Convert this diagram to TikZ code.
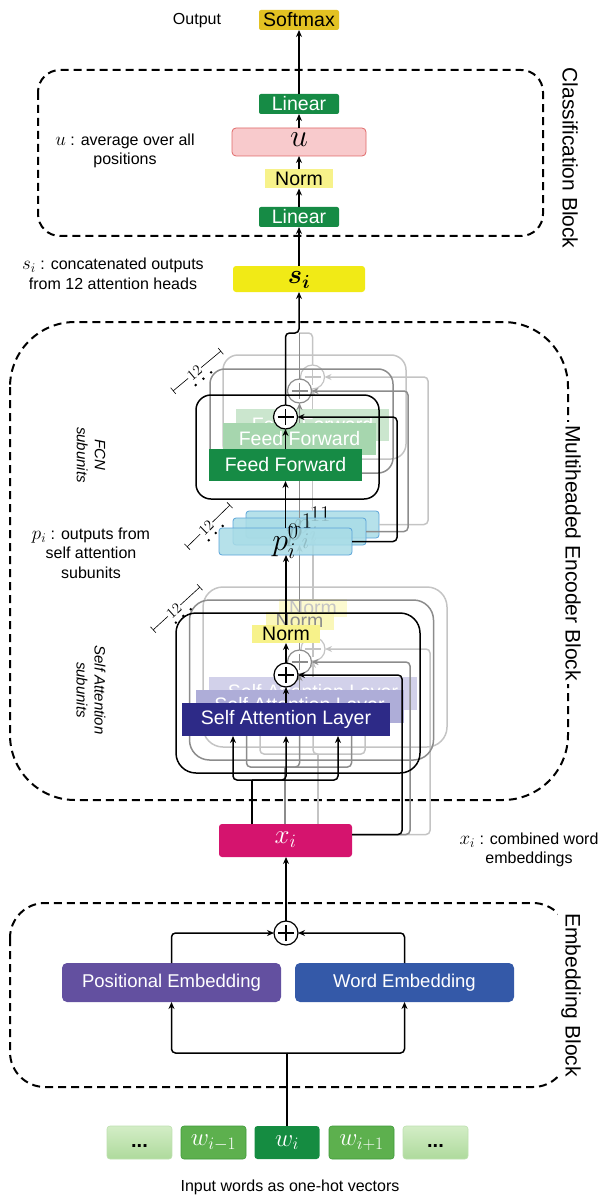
\RequirePackage{fix-cm}
\documentclass[tikz,border=0pt]{standalone}
\usepackage{amsmath}
\usepackage[no-math]{fontspec}
\setmainfont{Liberation Sans}
\usetikzlibrary{arrows.meta,calc}
\definecolor{cGold}{HTML}{E3C222}
\definecolor{cGreen}{HTML}{168B45}
\definecolor{cNorm}{HTML}{F7F28A}
\definecolor{cPink}{HTML}{F8CACC}
\definecolor{cPinkB}{HTML}{E06868}
\definecolor{cSi}{HTML}{F1EA16}
\definecolor{cP}{HTML}{A9DCE6}
\definecolor{cPB}{HTML}{5BA3D9}
\definecolor{cSA}{HTML}{2D2A87}
\definecolor{cSA1}{HTML}{AEADD8}
\definecolor{cSA2}{HTML}{D2D1EA}
\definecolor{cFF1}{HTML}{A6D6AE}
\definecolor{cFF2}{HTML}{CBE6CE}
\definecolor{cXi}{HTML}{D5146E}
\definecolor{cPE}{HTML}{6350A0}
\definecolor{cWE}{HTML}{3459A8}
\definecolor{cW}{HTML}{5DB04E}
\definecolor{cWb}{HTML}{3E9A3A}
\definecolor{cWi}{HTML}{158C41}
\definecolor{cWdT}{HTML}{D3EDC6}
\definecolor{cWdB}{HTML}{AEDA9C}
\definecolor{cG1}{HTML}{8C8C8C}
\definecolor{cG2}{HTML}{C4C4C4}
\newcommand\fs[2]{\fontsize{#1}{#2}\selectfont}
\newcommand\mm[1]{{\fontsize{19}{19}\selectfont$#1$}}
\tikzset{
  every node/.style={inner sep=0pt, outer sep=0pt},
  lbl/.style={font=\fs{19.5}{23}},
  note/.style={font=\fs{16}{19.5}, align=center},
  side/.style={font=\fs{15}{18}\itshape, align=center, rotate=-90},
  blk/.style={font=\fs{21}{25}, rotate=-90, inner sep=3pt},
  blockline/.style={dash pattern=on 8pt off 5pt, line width=2pt, rounded corners=#1pt},
  ln/.style={line width=1.5pt, rounded corners=4pt},
  arr/.style={ln, -{Stealth[length=7pt,width=6pt]}},
  gbox/.style={lbl, fill=cGreen, text=white, rounded corners=2pt, minimum width=80pt, minimum height=20pt},
  nbox/.style={lbl, fill=cNorm, minimum width=68pt, minimum height=19pt},
  sabox/.style={draw, line width=1.5pt, rounded corners=20pt, minimum width=244pt, minimum height=160pt},
  salayer/.style={lbl, minimum width=208pt, minimum height=33pt},
  normbox/.style={lbl, minimum width=68pt, minimum height=18pt},
  fcbox/.style={draw, line width=1.5pt, rounded corners=15pt, minimum width=183pt, minimum height=104pt},
  ffbox/.style={lbl, text=white, minimum width=153pt, minimum height=32pt},
  pbox/.style={fill=cP, fill opacity=0.85, draw=cPB, line width=0.8pt, rounded corners=3pt, minimum width=133pt, minimum height=27pt},
  ptext/.style={font=\fs{32}{36}},
  embbox/.style={font=\fs{18.5}{22}, text=white, rounded corners=5pt, minimum width=219pt, minimum height=39pt},
  wbox/.style={rounded corners=3pt, minimum width=65pt, minimum height=33pt, font=\fs{25}{28}, text=white},
  dotsbox/.style={rounded corners=3pt, minimum width=65pt, minimum height=33pt, top color=cWdT, bottom color=cWdB, draw=cWdB!80!white, line width=0.6pt},
  sumnode/.style={circle, draw=#1, line width=1.2pt, fill=white, minimum size=24pt,
    path picture={\draw[#1, line width=1.1pt]
      ([yshift=-4pt]path picture bounding box.north) -- ([yshift=4pt]path picture bounding box.south)
      ([xshift=4pt]path picture bounding box.west) -- ([xshift=-4pt]path picture bounding box.east);}},
  dimline/.style={line width=0.6pt, {Bar[width=8pt]}-{Bar[width=8pt]}},
  dimtext/.style={sloped, fill=white, inner sep=1pt, font=\fs{15}{18}},
}
\newcommand\SAlayer[6]{%
  \node[sabox, draw=#2] (saB#1) at (298,693) {};
  \node[salayer, fill=#3, text=#6] (saL#1) at (286,719.5) {Self Attention Layer};
  \node[sumnode=#2] (saP#1) at (286,675) {};
  \node[normbox, fill=#4, text=#5] (saN#1) at (286,634) {Norm};
  \draw[arr, #2] (saL#1.north) -- (saP#1.south);
  \draw[arr, #2] (saP#1.north) -- (saN#1.south);
  \coordinate (bl#1) at (233,780);
  \coordinate (bm#1) at (286,780);
  \coordinate (br#1) at (338,780);
}
\newcommand\FClayer[3]{%
  \node[fcbox, draw=#2] (fcB#1) at (287.5,447) {};
  \node[ffbox, fill=#3] (ff#1) at (285.5,465) {Feed Forward};
  \node[sumnode=#2] (fcP#1) at (285.5,417) {};
  \draw[arr, #2] (ff#1.north) -- (fcP#1.south);
}
\newcommand\Fork[2]{%
  \draw[ln, #2] (xi.north -| fk#1) -- (fk#1);
  \draw[arr, #2] (fk#1) -- (bl#1) -- (saL#1.south -| bl#1);
  \draw[arr, #2] (fk#1) -- (br#1) -- (saL#1.south -| br#1);
  \draw[arr, #2] (fk#1) -- (bm#1) -- (saL#1.south -| bm#1);
}
\begin{document}
\begin{tikzpicture}[x=1pt,y=-1pt]
\useasboundingbox (0,0) rectangle (601,1198);

% ---------------- block outlines ----------------
\draw[blockline=22] (38,70) rectangle (543,236);
\draw[blockline=65] (10,322) rectangle (568,800);
\draw[blockline=35] (10,903) rectangle (568,1087);
\node[blk] (lblC) at (570,158) {Classification Block};
\node[blk, fill=white] (lblE) at (573,553) {Multiheaded Encoder Block};
\node[blk, fill=white] (lblB) at (571,995) {Embedding Block};

% ---------------- classification ----------------
\node[lbl, fill=cGold, rounded corners=2pt, minimum width=80pt, minimum height=20pt] (softmax) at (299,20) {Softmax};
\node[note] (outlbl) at (197,21) {Output};
\node[gbox] (lin2) at (299,104) {Linear};
\node[fill=cPink, draw=cPinkB, line width=0.8pt, rounded corners=4pt, minimum width=134pt, minimum height=28pt] (u) at (299,142) {};
\node[font=\fs{32}{36}] (ut) at (299,140) {$u$};
\node[nbox] (norm1) at (299,179) {Norm};
\node[gbox] (lin1) at (299,217) {Linear};
\node[note] (utxt) at (125,151) {\mm{u} : average over all\\positions};
\node[fill=cSi, rounded corners=3pt, minimum width=132pt, minimum height=26pt] (si) at (299,279) {};
\node[font=\fs{27}{30}] (sit) at (299,280) {$\boldsymbol{s_i}$};
\node[note] (stxt) at (113,274) {\mm{s_i} : concatenated outputs\\from 12 attention heads};
\draw[arr] (si.north) -- (lin1.south);
\draw[arr] (lin1.north) -- (norm1.south);
\draw[arr] (norm1.north) -- (u.south);
\draw[arr] (u.north) -- (lin2.south);
\draw[arr] (lin2.north) -- (softmax.south);

% ---------------- embedding ----------------
\node[fill=cXi, rounded corners=3pt, minimum width=133pt, minimum height=33pt] (xi) at (285.5,840.5) {};
\node[font=\fs{27}{30}, text=white] (xit) at (285.5,840) {$x_i$};
\node[sumnode=black] (eP) at (286,933) {};
\node[embbox, fill=cPE] (pe) at (171.5,982.5) {Positional Embedding};
\node[embbox, fill=cWE] (we) at (404.5,982.5) {Word Embedding};
\node[dotsbox] (wa) at (139.5,1142.5) {};
\node[font=\fs{20}{24}\bfseries] (wat) at (139.5,1146) {...};
\node[wbox, fill=cW, draw=cWb, line width=0.6pt] (wb) at (213.5,1142.5) {$w_{i-1}$};
\node[wbox, fill=cWi] (wi) at (287,1142.5) {$w_i$};
\node[wbox, fill=cW, draw=cWb, line width=0.6pt] (wc) at (361.5,1142.5) {$w_{i+1}$};
\node[dotsbox] (wd) at (435.5,1142.5) {};
\node[font=\fs{20}{24}\bfseries] (wdt) at (435.5,1146) {...};
\node[note] (intxt) at (290,1187) {Input words as one-hot vectors};
\coordinate (wf) at (287,1053);
\draw[ln] (wi.north) -- (wf);
\draw[arr] (wf) -| (pe.south);
\draw[arr] (wf) -| (we.south);
\draw[arr] (pe.north) |- (eP.west);
\draw[arr] (we.north) |- (eP.east);
\draw[arr] (eP.north) -- (eP.north |- xi.south);
\node[note] (xtxt) at (529,850) {\mm{x_i} : combined word\\embeddings};

% ---------------- encoder ----------------
\coordinate (jn) at (299,333);

% back layer
\begin{scope}[shift={(27,-26)}]
  \SAlayer{2}{cG2}{cSA2}{cNorm!40}{cG2}{white}
  \coordinate (fk2) at (291,780);
  \coordinate (sr2) at (403,675);
\end{scope}
\Fork{2}{cG2}
\draw[arr, cG2] ([yshift=6pt]xi.east) -| (sr2) -- (saP2.east);
\begin{scope}[shift={(27,-40)}]
  \FClayer{2}{cG2}{cFF2}
  \coordinate (fr2) at (401,417);
\end{scope}
\begin{scope}[shift={(27,-17)}]
  \node[pbox] (p2) at (285.5,541.5) {};
  \node[ptext] (p2t) at (285.5,541.5) {$p_i^{11}$};
\end{scope}
\draw[arr, cG2] (saN2.north) -- (saN2.north |- p2.south);
\draw[arr, cG2] (p2.north) -- (p2.north |- ff2.south);
\draw[arr, cG2] (p2.east) -| (fr2) -- (fcP2.east);
\draw[ln, cG2] (fcP2.north) |- (jn);

% middle layer
\begin{scope}[shift={(13.5,-13)}]
  \SAlayer{1}{cG1}{cSA1}{cNorm!60}{cG1}{white}
  \coordinate (fk1) at (271.5,780);
  \coordinate (sr1) at (396.5,675);
\end{scope}
\Fork{1}{cG1}
\draw[arr, cG1] ([yshift=6pt]xi.east) -| (sr1) -- (saP1.east);
\begin{scope}[shift={(14,-26)}]
  \FClayer{1}{cG1}{cFF1}
  \coordinate (fr1) at (394,417);
\end{scope}
\begin{scope}[shift={(14,-10)}]
  \node[pbox] (p1) at (285.5,541.5) {};
  \node[ptext] (p1t) at (285.5,541.5) {$p_i^{1}$};
\end{scope}
\draw[arr, cG1] (saN1.north) -- (saN1.north |- p1.south);
\draw[arr, cG1] (p1.north) -- (p1.north |- ff1.south);
\draw[arr, cG1] (p1.east) -| (fr1) -- (fcP1.east);
\draw[ln, cG1] (fcP1.north) -- (fcP1.north |- jn);

% front layer
\SAlayer{0}{black}{cSA}{cNorm}{black}{white}
\coordinate (fk0) at (252,780);
\coordinate (sr0) at (402,675);
\Fork{0}{black}
\draw[arr] ([yshift=6pt]xi.east) -| (sr0) -- (saP0.east);
\FClayer{0}{black}{cGreen}
\coordinate (fr0) at (397,417);
\node[pbox] (p0) at (285.5,541.5) {};
\node[ptext] (p0t) at (285.5,541.5) {$p_i^{0}$};
\draw[arr] (saN0.north) -- (saN0.north |- p0.south);
\draw[arr] (p0.north) -- (p0.north |- ff0.south);
\draw[arr] (p0.east) -| (fr0) -- (fcP0.east);
\draw[arr] (fcP0.north) |- (jn) -- (si.south);

% dimension markers
\draw[dimline] (173,391) -- node[dimtext, pos=0.45] (d1) {$12$} (221,351);
\fill (195.7,385.1) circle (1.4pt) (203.4,378.7) circle (1.4pt) (211.1,372.3) circle (1.4pt);
\draw[dimline] (187,547) -- node[dimtext, pos=0.45] (d2) {$12$} (230,505);
\fill (208.7,540.2) circle (1.4pt) (215.7,533) circle (1.4pt) (222.7,525.9) circle (1.4pt);
\draw[dimline] (153,630) -- node[dimtext, pos=0.45] (d3) {$12$} (200,587);
\fill (175.9,622.6) circle (1.4pt) (183.3,615.9) circle (1.4pt) (190.7,609.2) circle (1.4pt);

% side labels
\node[side] (fcnlbl) at (91,455) {FCN\\subunits};
\node[note] (ptxt) at (91,553) {\mm{p_i} : outputs from\\self attention\\subunits};
\node[side] (salbl) at (91,690) {Self Attention\\subunits};
\end{tikzpicture}
\end{document}
